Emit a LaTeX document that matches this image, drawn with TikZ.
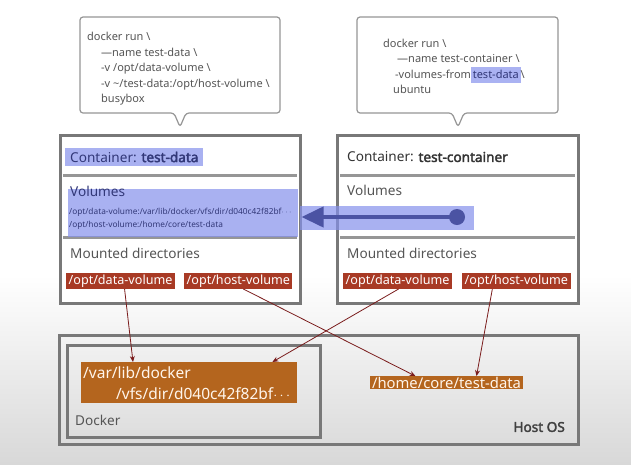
\documentclass[tikz,border=0pt]{standalone}
\usepackage{fontspec}
\setmainfont{Noto Sans}[BoldFont={Noto Sans},BoldFeatures={FakeBold=2.5}]
\usetikzlibrary{arrows.meta}
\definecolor{boxgray}{RGB}{120,120,120}
\definecolor{sepgray}{RGB}{150,150,150}
\definecolor{hlblue}{RGB}{133,145,236}
\definecolor{hlsolid}{RGB}{170,178,242}
\definecolor{arrblue}{RGB}{75,83,163}
\definecolor{tagred}{RGB}{168,58,37}
\definecolor{dirorange}{RGB}{180,101,30}
\definecolor{linkred}{RGB}{122,28,28}
\definecolor{txtgray}{RGB}{85,85,85}
\definecolor{hltext}{RGB}{50,56,120}

\begin{document}
\begin{tikzpicture}[x=1pt,y=-1pt,
  callout/.style={draw=sepgray,line width=1.2pt,fill=white,rounded corners=3pt},
  cmd/.style={anchor=north west,inner sep=0pt,align=left,text=txtgray,font=\fontsize{11}{15.5}\selectfont},
  frame/.style={draw=boxgray,line width=3pt,inner sep=0pt},
  sep/.style={draw=sepgray,line width=3pt},
  label/.style={anchor=west,inner sep=0pt,text=txtgray,font=\fontsize{13.6}{16}\selectfont},
  hl/.style={fill=hlblue,fill opacity=0.7,text opacity=1},
  volpath/.style={anchor=west,inner sep=0pt,text=hltext,font=\fontsize{8.3}{9}\selectfont},
  tag/.style={anchor=west,fill=tagred,text=white,inner xsep=2.5pt,inner ysep=1.5pt,font=\fontsize{12.6}{14}\selectfont},
  dir/.style={fill=dirorange,text=white!92!orange,inner xsep=2pt,inner ysep=0.5pt},
  link/.style={draw=linkred,line width=0.8pt,-{Stealth[length=6pt,width=5pt]}},
  volarrow/.style={draw=arrblue,line width=4pt,-{Triangle[length=22pt,width=20pt]}}]

\useasboundingbox (0,0) rectangle (631,464);
\fill[white] (0,0) rectangle (631,464);
\shade[top color=white,bottom color={rgb,255:red,216;green,216;blue,216}] (0,275) rectangle (631,464);

\draw[callout] (80,17) -- (280,17) -- (280,113) -- (186,113) -- (180,127) -- (174,113) -- (80,113) -- cycle;
\draw[callout] (357,17) -- (558,17) -- (558,113) -- (464,113) -- (458,127) -- (452,113) -- (357,113) -- cycle;

\node[cmd] (runtd) at (87,32) {docker run \textbackslash\\
  \hspace*{14pt}—name test-data \textbackslash\\
  \hspace*{14pt}-v /opt/data-volume \textbackslash\\
  \hspace*{14pt}-v \textasciitilde/test-data:/opt/host-volume \textbackslash\\
  \hspace*{14pt}busybox};

\node[cmd] (runtc) at (383,38.5) {docker run \textbackslash\\
  \hspace*{14pt}—name test-container \textbackslash\\
  \hspace*{12pt}-volumes-from{\setlength{\fboxsep}{0pt}\colorbox{hlsolid}{\strut\,\textcolor{hltext}{test-data}\,}}\textbackslash\\
  \hspace*{10pt}ubuntu};

\node[frame,fill=white,minimum width=240pt,minimum height=168pt] (datacont) at (180,219) {};
\node[frame,fill=white,minimum width=241pt,minimum height=168pt] (tccont) at (457.5,219) {};

\draw[sep] (63,175) -- (297,175);
\draw[sep] (63,237) -- (297,237);
\draw[sep] (340,175) -- (575,175);
\draw[sep] (340,237) -- (575,237);

\node[label,hl,inner sep=4pt,inner xsep=5pt,text=hltext] (tdhead) at (65,157) {Container: \textbf{test-data}};
\node[hl,anchor=north west,minimum width=230pt,minimum height=48pt,inner sep=0pt] (datavol) at (68,189) {};
\node[label,text=hltext] (tdvoltitle) at (70,191) {Volumes};
\node[volpath] (tdvol1) at (69,212) {/opt/data-volume:/var/lib/docker/vfs/dir/d040c42f82bf$\cdots$};
\node[volpath] (tdvol2) at (69,225) {/opt/host-volume:/home/core/test-data};
\node[label] (tdmount) at (70,253) {Mounted directories};

\node[label,text=black!80] (tchead) at (347,157) {Container: \textbf{test-container}};
\node[label] (tcvoltitle) at (347,190) {Volumes};
\node[label] (tcmount) at (347,253) {Mounted directories};

\node[hl,anchor=west,minimum width=174pt,minimum height=24pt,inner sep=0pt] (strip) at (300,218) {};
\node[circle,fill=arrblue,minimum size=16pt,inner sep=0pt] (src) at (457,217) {};
\draw[volarrow] (src.center) -- (src.center -| datacont.east);

\node[tag] (tddata) at (66,281) {/opt/data-volume};
\node[tag] (tdhost) at (184,281) {/opt/host-volume};
\node[tag] (tcdata) at (343,281) {/opt/data-volume};
\node[tag] (tchost) at (462,281) {/opt/host-volume};

\node[frame,minimum width=519pt,minimum height=109pt] (hostos) at (318.5,389.5) {};
\node[anchor=east,inner sep=0pt,text=black!75,font=\fontsize{13.6}{16}\selectfont\bfseries] (hostlbl) at (565,427) {Host OS};
\node[frame,minimum width=253pt,minimum height=92pt] (docker) at (193.5,391) {};
\node[label] (dockerlbl) at (75,420) {Docker};

\node[dir,anchor=north west,minimum width=216pt,minimum height=41pt,text width=212pt,align=left,font=\fontsize{15.5}{21}\selectfont] (dockdir) at (81,362)
  {/var/lib/docker\\\hspace*{33pt}/vfs/dir/d040c42f82bf$\cdots$};
\node[dir,font=\fontsize{14.8}{17}\selectfont] (hostdir) at (446.5,382.5) {/home/core/test-data};

\draw[link] ([xshift=4pt]tddata.south) -- ([xshift=52pt]dockdir.north west);
\draw[link] ([xshift=5pt]tdhost.south) -- ([xshift=-31pt]hostdir.north);
\draw[link] ([xshift=1pt]tcdata.south) -- ([xshift=-25pt]dockdir.north east);
\draw[link] ([xshift=-24pt]tchost.south) -- ([xshift=30pt]hostdir.north);

\end{tikzpicture}
\end{document}
